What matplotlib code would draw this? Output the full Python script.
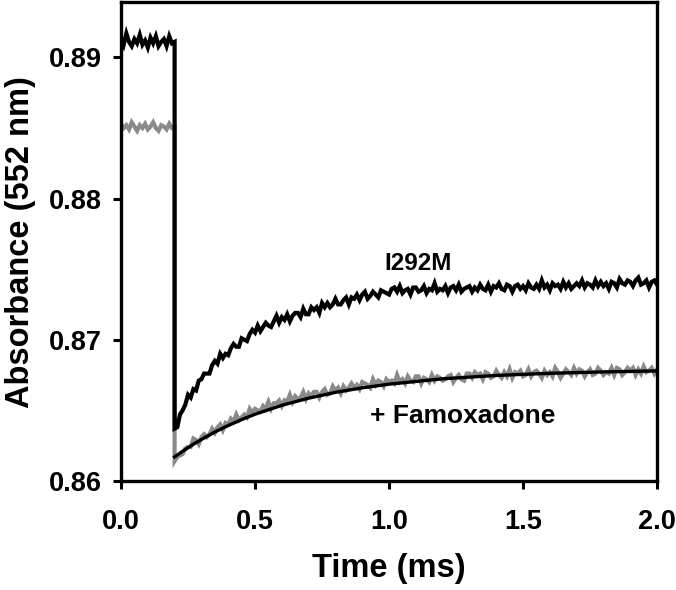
import numpy as np
import matplotlib
matplotlib.use('Agg')
import matplotlib.pyplot as plt

plt.rcParams['font.family'] = ['Liberation Sans', 'DejaVu Sans']
plt.rcParams['font.weight'] = 'bold'

# sampling step of the recorded traces (ms)
step = 0.01
t_jump = 0.2

# I292M trace, before the flash (t = 0.00 .. 0.20)
i292m_pre = [0.8914, 0.8909, 0.8917, 0.8911, 0.8908, 0.8913, 0.8910, 0.8916, 0.8909, 0.8912,
             0.8907, 0.8914, 0.8910, 0.8915, 0.8908, 0.8911, 0.8913, 0.8908, 0.8915, 0.8910,
             0.8911]

# I292M trace, after the flash (t = 0.20 .. 2.00)
i292m_post = [0.8637, 0.8638, 0.8647, 0.8650, 0.8654, 0.8661, 0.8659, 0.8665, 0.8664, 0.8671,
              0.8672, 0.8676, 0.8676, 0.8676, 0.8682, 0.8685, 0.8683, 0.8690, 0.8687, 0.8690,
              0.8689, 0.8694, 0.8697, 0.8695, 0.8695, 0.8701, 0.8700, 0.8699, 0.8704, 0.8707,
              0.8705, 0.8710, 0.8706, 0.8709, 0.8712, 0.8710, 0.8709, 0.8713, 0.8717, 0.8712,
              0.8716, 0.8714, 0.8718, 0.8713, 0.8717, 0.8719, 0.8719, 0.8716, 0.8722, 0.8718,
              0.8718, 0.8723, 0.8721, 0.8723, 0.8719, 0.8726, 0.8723, 0.8726, 0.8723, 0.8725,
              0.8729, 0.8725, 0.8725, 0.8728, 0.8730, 0.8725, 0.8730, 0.8729, 0.8732, 0.8728,
              0.8732, 0.8734, 0.8729, 0.8731, 0.8734, 0.8732, 0.8730, 0.8735, 0.8734, 0.8733,
              0.8732, 0.8736, 0.8737, 0.8734, 0.8738, 0.8733, 0.8735, 0.8736, 0.8732, 0.8737,
              0.8737, 0.8734, 0.8735, 0.8738, 0.8733, 0.8736, 0.8735, 0.8740, 0.8734, 0.8736,
              0.8735, 0.8738, 0.8733, 0.8737, 0.8738, 0.8735, 0.8739, 0.8734, 0.8736, 0.8737,
              0.8738, 0.8734, 0.8737, 0.8735, 0.8739, 0.8736, 0.8735, 0.8739, 0.8734, 0.8738,
              0.8737, 0.8740, 0.8736, 0.8735, 0.8739, 0.8738, 0.8734, 0.8738, 0.8739, 0.8736,
              0.8738, 0.8735, 0.8740, 0.8737, 0.8736, 0.8739, 0.8736, 0.8742, 0.8737, 0.8739,
              0.8735, 0.8740, 0.8738, 0.8739, 0.8736, 0.8741, 0.8737, 0.8740, 0.8736, 0.8738,
              0.8740, 0.8738, 0.8742, 0.8737, 0.8740, 0.8739, 0.8737, 0.8742, 0.8738, 0.8741,
              0.8738, 0.8740, 0.8736, 0.8741, 0.8740, 0.8737, 0.8743, 0.8740, 0.8739, 0.8742,
              0.8741, 0.8738, 0.8742, 0.8744, 0.8739, 0.8740, 0.8742, 0.8737, 0.8741, 0.8742,
              0.8739]

# + Famoxadone trace (grey), before and after the flash
famox_pre = [0.8853, 0.8850, 0.8852, 0.8849, 0.8854, 0.8851, 0.8848, 0.8852, 0.8850, 0.8853,
             0.8849, 0.8851, 0.8854, 0.8850, 0.8848, 0.8852, 0.8851, 0.8849, 0.8853, 0.8850,
             0.8851]

famox_post = [0.8614, 0.8617, 0.8618, 0.8619, 0.8623, 0.8624, 0.8624, 0.8630, 0.8629, 0.8626,
              0.8631, 0.8633, 0.8631, 0.8633, 0.8637, 0.8634, 0.8638, 0.8640, 0.8636, 0.8641,
              0.8640, 0.8644, 0.8642, 0.8647, 0.8643, 0.8645, 0.8647, 0.8645, 0.8651, 0.8648,
              0.8651, 0.8650, 0.8649, 0.8653, 0.8651, 0.8656, 0.8651, 0.8655, 0.8655, 0.8657,
              0.8653, 0.8657, 0.8656, 0.8661, 0.8656, 0.8660, 0.8658, 0.8659, 0.8663, 0.8658,
              0.8662, 0.8660, 0.8663, 0.8663, 0.8659, 0.8663, 0.8665, 0.8661, 0.8662, 0.8667,
              0.8664, 0.8666, 0.8662, 0.8667, 0.8664, 0.8666, 0.8669, 0.8666, 0.8668, 0.8665,
              0.8670, 0.8669, 0.8668, 0.8666, 0.8672, 0.8668, 0.8671, 0.8670, 0.8667, 0.8672,
              0.8670, 0.8671, 0.8669, 0.8675, 0.8670, 0.8672, 0.8669, 0.8674, 0.8671, 0.8670,
              0.8674, 0.8674, 0.8669, 0.8673, 0.8672, 0.8670, 0.8675, 0.8671, 0.8674, 0.8673,
              0.8671, 0.8672, 0.8674, 0.8675, 0.8670, 0.8673, 0.8675, 0.8672, 0.8671, 0.8676,
              0.8676, 0.8673, 0.8677, 0.8675, 0.8676, 0.8672, 0.8677, 0.8676, 0.8673, 0.8674,
              0.8678, 0.8675, 0.8673, 0.8677, 0.8674, 0.8679, 0.8673, 0.8677, 0.8676, 0.8678,
              0.8674, 0.8675, 0.8679, 0.8674, 0.8677, 0.8678, 0.8676, 0.8673, 0.8678, 0.8675,
              0.8677, 0.8674, 0.8680, 0.8677, 0.8673, 0.8676, 0.8679, 0.8677, 0.8675, 0.8680,
              0.8676, 0.8679, 0.8678, 0.8674, 0.8677, 0.8679, 0.8675, 0.8676, 0.8680, 0.8678,
              0.8675, 0.8677, 0.8676, 0.8680, 0.8675, 0.8680, 0.8679, 0.8675, 0.8677, 0.8680,
              0.8678, 0.8680, 0.8675, 0.8679, 0.8676, 0.8681, 0.8677, 0.8678, 0.8680, 0.8676,
              0.8679]

# fitted curve drawn over the famoxadone trace
fit_t = [0.200, 0.225, 0.250, 0.275, 0.300, 0.350, 0.400, 0.450, 0.500, 0.600, 0.700,
         0.800, 0.900, 1.000, 1.200, 1.400, 1.600, 1.800, 2.000]
fit_y = [0.86170, 0.86203, 0.86235, 0.86265, 0.86293, 0.86346, 0.86392, 0.86434, 0.86472,
         0.86535, 0.86586, 0.86627, 0.86659, 0.86685, 0.86723, 0.86747, 0.86762, 0.86772,
         0.86779]

xticks = [0.0, 0.5, 1.0, 1.5, 2.0]
yticks = [0.86, 0.87, 0.88, 0.89]

# time axes for the two segments
t_pre = np.arange(len(i292m_pre)) * step
t_post = t_jump + np.arange(len(i292m_post)) * step

fig = plt.figure(figsize=(6.76, 5.90), dpi=100)
ax = fig.add_axes([0.179, 0.185, 0.793, 0.811])

grey = '#8a8a8a'
ax.plot(np.concatenate([t_pre, t_post]), famox_pre + famox_post,
        color=grey, lw=3.0, solid_joinstyle='miter')
ax.plot(np.concatenate([t_pre, t_post]), i292m_pre + i292m_post,
        color='black', lw=3.0, solid_joinstyle='miter')
ax.plot(fit_t, fit_y, color='black', lw=2.4)

ax.text(1.108, 0.8754, 'I292M', fontsize=17.5, fontweight='bold', ha='center', va='center')
ax.text(1.274, 0.8646, '+ Famoxadone', fontsize=19, fontweight='bold', ha='center', va='center')

ax.set_xlim(0, 2.0)
ax.set_ylim(0.86, 0.8939)
ax.set_xticks(xticks)
ax.set_yticks(yticks)
ax.set_xticklabels(['%.1f' % v for v in xticks])
ax.set_yticklabels(['%.2f' % v for v in yticks])

for s in ax.spines.values():
    s.set_linewidth(2.4)
ax.tick_params(direction='out', length=6, width=2.2, labelsize=19.5, pad=8)
ax.tick_params(axis='x', pad=14)

ax.set_xlabel('Time (ms)', fontsize=23.5, fontweight='bold', labelpad=13)
ax.set_ylabel('Absorbance (552 nm)', fontsize=23.5, fontweight='bold', labelpad=9)

fig.savefig('out.png', dpi=100)
